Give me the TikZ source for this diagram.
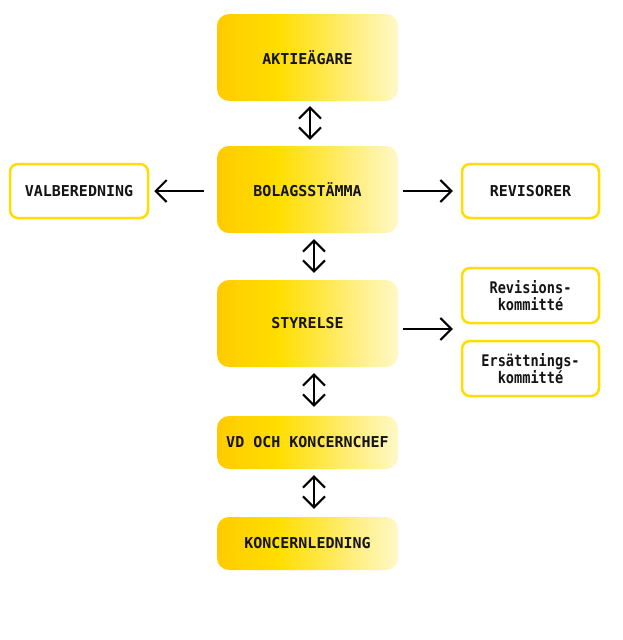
\documentclass[tikz,border=0pt]{standalone}
\usepackage{fontspec}
\setmainfont{DejaVu Sans Mono}
\newfontfamily\lowfont[FakeStretch=0.85]{DejaVu Sans Mono}
\usetikzlibrary{arrows.meta}
\definecolor{yA}{RGB}{255,203,0}
\definecolor{yB}{RGB}{255,222,0}
\definecolor{yC}{RGB}{255,248,200}
\definecolor{yBorder}{RGB}{255,221,0}
\definecolor{txt}{RGB}{20,20,20}
\pgfdeclarehorizontalshading{yelgrad}{100bp}{color(0bp)=(yA); color(25bp)=(yA); color(42bp)=(yB); color(75bp)=(yC); color(100bp)=(yC)}
\tikzset{
  mainbox/.style={rounded corners=12pt, shading=yelgrad, draw=none, text=txt,
    font=\bfseries\fontsize{15}{17}\selectfont, align=center, minimum width=181pt, inner sep=0pt},
  sidebox/.style={rounded corners=8pt, draw=yBorder, line width=2.5pt, fill=white, text=txt,
    font=\bfseries\fontsize{15}{17}\selectfont, align=center, minimum width=137pt, minimum height=54pt, inner sep=0pt},
  lowbox/.style={sidebox, font=\lowfont\bfseries\fontsize{16}{17}\selectfont},
  barb/.tip={Straight Barb[length=11pt,width=22pt,line width=2pt]},
  conn/.style={line width=2pt, -barb},
  dconn/.style={line width=2pt, barb-barb}
}
\begin{document}
\begin{tikzpicture}[x=1pt,y=-1pt]
\useasboundingbox (0,0) rectangle (623,640);
% main boxes
\node[mainbox, minimum height=87pt] (akt) at (307.5,57.5) {AKTIEÄGARE};
\node[mainbox, minimum height=87pt] (bol) at (307.5,189.5) {BOLAGSSTÄMMA};
\node[mainbox, minimum height=87pt] (sty) at (307.5,323.5) {STYRELSE};
\node[mainbox, minimum height=53pt] (vd) at (307.5,442.5) {VD OCH KONCERNCHEF};
\node[mainbox, minimum height=53pt] (kl) at (307.5,543.5) {KONCERNLEDNING};
% side boxes
\node[sidebox, minimum width=138pt] (val) at (79,191) {VALBEREDNING};
\node[sidebox] (rev) at (530.5,191) {REVISORER};
\node[lowbox, minimum height=55pt] (rk) at (530.5,295.5) {Revisions-\\kommitté};
\node[lowbox, minimum height=55pt] (ek) at (530.5,368.5) {Ersättnings-\\kommitté};
% connectors
\draw[dconn] ([xshift=2.5pt,yshift=-5pt]akt.south) -- ([xshift=2.5pt,yshift=6pt]bol.north);
\draw[dconn] ([xshift=6.5pt,yshift=-6pt]bol.south) -- ([xshift=6.5pt,yshift=7pt]sty.north);
\draw[dconn] ([xshift=6.5pt,yshift=-6pt]sty.south) -- ([xshift=6.5pt,yshift=9pt]vd.north);
\draw[dconn] ([xshift=6.5pt,yshift=-6pt]vd.south) -- ([xshift=6.5pt,yshift=8pt]kl.north);
\draw[conn] ([xshift=-13pt]bol.west |- val.east) -- ([xshift=5pt]val.east);
\draw[conn] ([xshift=5pt]bol.east |- rev.west) -- ([xshift=-8pt]rev.west);
\draw[conn] ([xshift=5pt,yshift=-5.5pt]sty.east) -- ([xshift=-8pt,yshift=-5.5pt]sty.east -| rk.west);
\end{tikzpicture}
\end{document}
